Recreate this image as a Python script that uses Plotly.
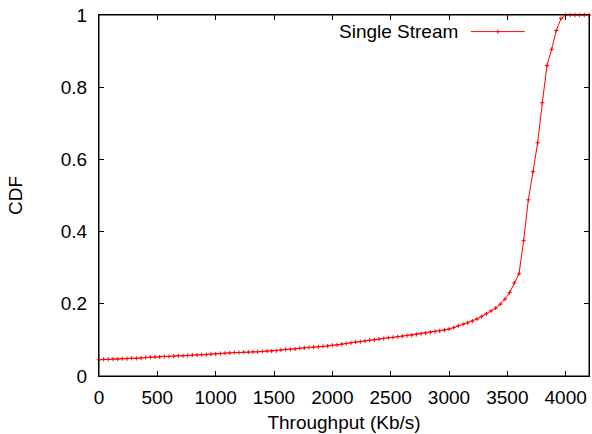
import plotly.graph_objects as go

throughput = [0, 40, 80, 120, 160, 200, 240, 280, 320, 360, 400, 440, 480, 520, 560, 600,
              640, 680, 720, 760, 800, 840, 880, 920, 960, 1000, 1040, 1080, 1120, 1160,
              1200, 1240, 1280, 1320, 1360, 1400, 1440, 1480, 1520, 1560, 1600, 1640, 1680,
              1720, 1760, 1800, 1840, 1880, 1920, 1960, 2000, 2040, 2080, 2120, 2160, 2200,
              2240, 2280, 2320, 2360, 2400, 2440, 2480, 2520, 2560, 2600, 2640, 2680, 2720,
              2760, 2800, 2840, 2880, 2920, 2960, 3000, 3040, 3080, 3120, 3160, 3200, 3240,
              3280, 3320, 3360, 3400, 3440, 3480, 3520, 3560, 3600, 3640, 3680, 3720, 3760,
              3800, 3840, 3880, 3920, 3960, 4000, 4040, 4080, 4120, 4160, 4200]

cdf = [0.045, 0.046, 0.046, 0.047, 0.047, 0.048, 0.048, 0.049, 0.049, 0.050, 0.051, 0.052,
       0.053, 0.053, 0.054, 0.054, 0.055, 0.056, 0.056, 0.057, 0.058, 0.058, 0.059, 0.059,
       0.060, 0.061, 0.062, 0.063, 0.064, 0.065, 0.065, 0.066, 0.066, 0.067, 0.067, 0.068,
       0.069, 0.069, 0.070, 0.072, 0.074, 0.074, 0.075, 0.077, 0.078, 0.079, 0.080, 0.081,
       0.082, 0.083, 0.085, 0.086, 0.088, 0.090, 0.092, 0.094, 0.095, 0.097, 0.099, 0.100,
       0.102, 0.104, 0.106, 0.107, 0.109, 0.110, 0.112, 0.113, 0.115, 0.117, 0.119, 0.121,
       0.123, 0.125, 0.127, 0.130, 0.134, 0.139, 0.143, 0.147, 0.152, 0.158, 0.165, 0.172,
       0.180, 0.188, 0.199, 0.213, 0.231, 0.258, 0.283, 0.375, 0.488, 0.566, 0.646, 0.757,
       0.860, 0.905, 0.957, 0.990, 1.0, 1.0, 1.0, 1.0, 1.0, 1.0]

series_name = "Single Stream"
x_ticks = [0, 500, 1000, 1500, 2000, 2500, 3000, 3500, 4000]
y_ticks = [0, 0.2, 0.4, 0.6, 0.8, 1]
y_tick_labels = ["0", "0.2", "0.4", "0.6", "0.8", "1"]

RED = "#ff0000"
FONT = "Liberation Sans, Arial, sans-serif"
FS = 19

fig = go.Figure()
fig.add_trace(go.Scatter(
    x=throughput, y=cdf, mode="lines+markers", name=series_name,
    line=dict(color=RED, width=1),
    marker=dict(symbol="cross-thin", size=3, line=dict(color=RED, width=1), color=RED),
    showlegend=False, cliponaxis=False,
))

# plot frame (gnuplot-style border)
fig.add_shape(type="rect", xref="paper", yref="paper", x0=0, x1=1, y0=0, y1=1,
              line=dict(color="black", width=1), fillcolor="rgba(0,0,0,0)", layer="below")

# legend drawn gnuplot style: text left, sample line right
fig.add_annotation(x=0.737, y=0.954, xref="paper", yref="paper", text=series_name,
                   showarrow=False, xanchor="right", yanchor="middle",
                   font=dict(family=FONT, size=FS, color="black"))
fig.add_shape(type="line", xref="paper", yref="paper", x0=0.759, x1=0.869, y0=0.954, y1=0.954,
              line=dict(color=RED, width=1))
fig.add_trace(go.Scatter(x=[0.814], y=[0.954], xaxis="x2", yaxis="y2", mode="markers",
                         marker=dict(symbol="cross-thin", size=3, line=dict(color=RED, width=1)),
                         showlegend=False, hoverinfo="skip"))

axis_common = dict(showline=True, linecolor="black", linewidth=1, mirror="ticks",
                   ticks="inside", ticklen=5, tickcolor="black", showgrid=False, zeroline=False,
                   ticklabeloverflow="allow",
                   tickfont=dict(family=FONT, size=FS, color="black"))

fig.update_layout(
    width=592, height=434,
    margin=dict(l=99, r=3, t=15, b=58),
    paper_bgcolor="white", plot_bgcolor="white",
    font=dict(family=FONT, size=FS, color="black"),
    xaxis=dict(range=[0, 4200], tickvals=x_ticks, ticktext=[str(v) for v in x_ticks],
               ticklabelstandoff=4,
               title=dict(text="Throughput (Kb/s)", standoff=8,
                          font=dict(family=FONT, size=FS)), **axis_common),
    yaxis=dict(range=[0, 1], tickvals=y_ticks, ticktext=y_tick_labels,
               ticklabelstandoff=7,
               title=dict(text="CDF", standoff=33, font=dict(family=FONT, size=FS)),
               **axis_common),
    xaxis2=dict(domain=[0, 1], range=[0, 1], visible=False, overlaying="x"),
    yaxis2=dict(domain=[0, 1], range=[0, 1], visible=False, overlaying="y"),
    showlegend=False,
)

fig.write_html("out.html", config={"displayModeBar": False},
               post_script="document.body.style.margin='0';document.body.style.overflow='hidden';")
